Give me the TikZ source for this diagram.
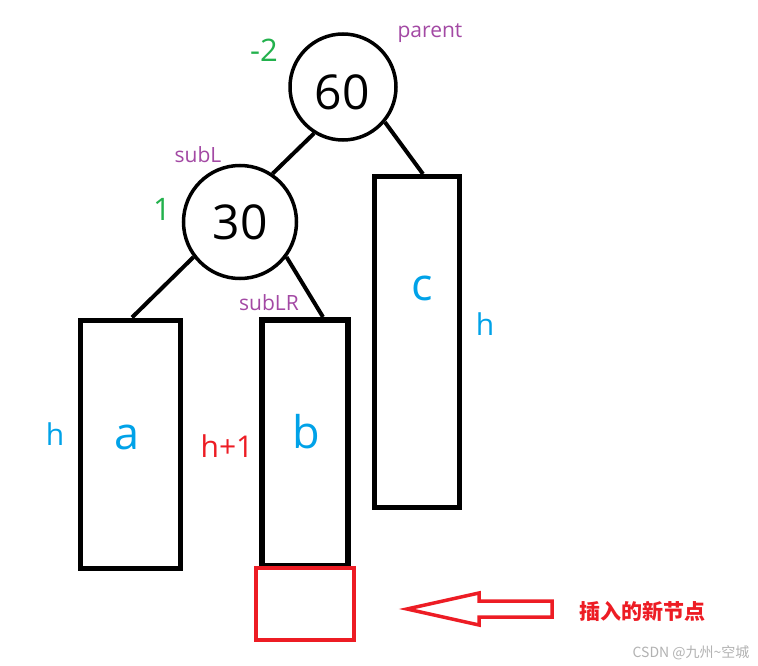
\documentclass[tikz,border=0pt]{standalone}
\usepackage{fontspec}
\setmainfont{Open Sans}
\newfontfamily\cjk{Noto Sans CJK SC}
\definecolor{pgreen}{RGB}{34,177,76}
\definecolor{ppurple}{RGB}{163,73,164}
\definecolor{pblue}{RGB}{0,162,232}
\definecolor{pred}{RGB}{237,28,36}
\begin{document}
\begin{tikzpicture}[x=1pt,y=-1pt,
  treenode/.style={circle,draw=black,line width=3.5pt,inner sep=0pt,fill=white},
  subtree/.style={draw=black,line width=5pt,inner sep=0pt},
  edge/.style={draw=black,line width=4pt},
  tag/.style={text=ppurple,font=\fontsize{21}{24}\selectfont,inner sep=0pt},
  bal/.style={text=pgreen,font=\fontsize{31}{34}\selectfont,inner sep=0pt},
  hgt/.style={text=pblue,font=\fontsize{30}{34}\selectfont,inner sep=0pt},
  treename/.style={text=pblue,font=\fontsize{45}{50}\selectfont,inner sep=0pt}]
\useasboundingbox[fill=white] (0,0) rectangle (758,666);
% tree nodes
\node[treenode,minimum size=106pt] (n60) at (343,87) {};
\node[inner sep=0pt,font=\fontsize{48}{50}\selectfont] (t60) at (342,92) {60};
\node[treenode,minimum size=113pt,font=\fontsize{48}{50}\selectfont] (n30) at (240,222) {30};
% subtrees
\node[subtree,minimum width=100pt,minimum height=248pt] (a) at (130,444) {};
\node[subtree,line width=6pt,minimum width=86pt,minimum height=246pt] (b) at (305,443) {};
\node[subtree,minimum width=85pt,minimum height=331pt] (c) at (417,342) {};
\node[draw=pred,line width=3.5pt,inner sep=0pt,minimum width=98pt,minimum height=72pt] (new) at (305,604) {};
% edges
\draw[edge] (n60.-122) -- (n30.56);
\draw[edge] (n60.-40) -- ([xshift=6pt]c.north);
\draw[edge] (n30.-143) -- ([xshift=2pt]a.north);
\draw[edge] (n30.-37) -- ([xshift=18pt]b.north);
% labels
\node[bal] (bal60) at (264,50) {-2};
\node[tag] (lparent) at (430,33) {parent};
\node[tag] (lsubl) at (198,155) {subL};
\node[bal] (bal30) at (162,209) {1};
\node[tag] (lsublr) at (269,303) {subLR};
\node[hgt] (ha) at (55,434) {h};
\node[treename] (la) at (127,437) {a};
\node[hgt,text=pred] (hb) at (227,446) {h+1};
\node[treename] (lb) at (306,432) {b};
\node[treename] (lc) at (422,288) {c};
\node[hgt] (hc) at (485,324) {h};
% insertion arrow
\node[text=pred,font=\cjk\bfseries\fontsize{21}{24}\selectfont,inner sep=0pt] (ins) at (642,611) {插入的新节点};
\draw[draw=pred,line width=3.5pt,line join=miter]
  (407,609) -- (479,593) -- (479,601) -- (552,601) -- (552,617) -- (479,617) -- (479,625) -- cycle;
\node[text=black!30,font=\cjk\fontsize{14}{16}\selectfont,inner sep=0pt] (wm) at (691,653) {CSDN @九州\textasciitilde 空城};
\end{tikzpicture}
\end{document}
